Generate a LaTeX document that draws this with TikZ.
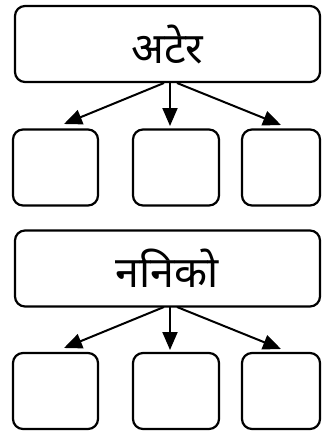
\documentclass[tikz,border=0pt]{standalone}
\usepackage{fontspec}
\newfontfamily\devfont[Script=Devanagari]{Noto Sans}
\usetikzlibrary{arrows.meta}
\begin{document}
\begin{tikzpicture}[x=1pt,y=1pt,
  line width=2.2pt,
  bigbox/.style={draw, rounded corners=10pt, minimum width=305pt, minimum height=76pt, inner sep=0pt, font=\devfont\fontsize{43}{48}\selectfont},
  smallbox/.style={draw, rounded corners=10pt, minimum height=76pt, inner sep=0pt},
  arr/.style={-{Triangle[length=18pt,width=15pt]}, line width=2pt}
]
\useasboundingbox (0,0) rectangle (322,-431);
% row 1
\node[bigbox] (t1) at (167.5,-44) {\raisebox{-1pt}{अटेर}};
\node[smallbox, minimum width=85pt] (a1) at (55.5,-167.5) {};
\node[smallbox, minimum width=86pt] (a2) at (176,-167.5) {};
\node[smallbox, minimum width=78pt] (a3) at (281,-167.5) {};
\coordinate (s1l) at (164,-83);
\coordinate (s1m) at (170,-83);
\coordinate (s1r) at (177,-83);
\coordinate (e1l) at (64,-124);
\coordinate (e1m) at (170,-126);
\coordinate (e1r) at (281,-125);
\draw[arr] (s1l) -- (e1l);
\draw[arr] (s1m) -- (e1m);
\draw[arr] (s1r) -- (e1r);
% row 2
\node[bigbox] (t2) at (167.5,-268.5) {\raisebox{-1pt}{ननिको}};
\node[smallbox, minimum width=85pt] (b1) at (55.5,-391) {};
\node[smallbox, minimum width=86pt] (b2) at (176,-391) {};
\node[smallbox, minimum width=78pt] (b3) at (281,-391) {};
\coordinate (s2l) at (164,-307);
\coordinate (s2m) at (170,-307);
\coordinate (s2r) at (177,-307);
\coordinate (e2l) at (64,-348);
\coordinate (e2m) at (170,-350);
\coordinate (e2r) at (281,-349);
\draw[arr] (s2l) -- (e2l);
\draw[arr] (s2m) -- (e2m);
\draw[arr] (s2r) -- (e2r);
\end{tikzpicture}
\end{document}
